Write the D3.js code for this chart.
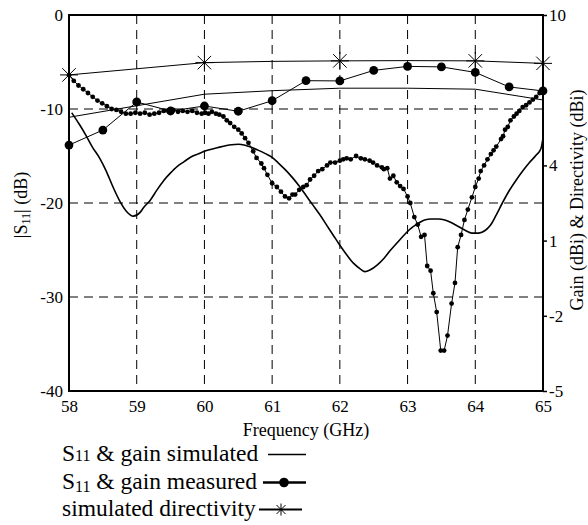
<!DOCTYPE html>
<html>
<head>
<meta charset="utf-8">
<script src="https://cdn.jsdelivr.net/npm/d3@7"></script>
<style>
  html, body { margin: 0; padding: 0; background: #fff; }
  svg { display: block; }
  svg text { font-family: "Liberation Serif", "Times New Roman", serif !important; fill: #000; }
</style>
</head>
<body>
<svg id="chart" width="588" height="525"></svg>
<script>
// ---------- DATA ----------
const xTicks = [58, 59, 60, 61, 62, 63, 64, 65];
const leftTicks = [0, -10, -20, -30, -40];
const rightTicks = [10, 4, 1, -2, -5];

// Simulated |S11| (dB), left axis
const simS11Freq = [58.04, 58.15, 58.25, 58.35, 58.45, 58.55, 58.65, 58.75, 58.85, 58.95, 59.05, 59.1, 59.2, 59.3, 59.4, 59.5, 59.6, 59.7, 59.8, 59.9, 60.0, 60.2, 60.4, 60.5, 60.6, 60.7, 60.8, 60.9, 61.0, 61.1, 61.2, 61.3, 61.4, 61.5, 61.6, 61.7, 61.8, 61.9, 62.0, 62.1, 62.2, 62.3, 62.37, 62.45, 62.55, 62.65, 62.75, 62.85, 62.95, 63.05, 63.15, 63.25, 63.35, 63.45, 63.55, 63.65, 63.75, 63.85, 63.95, 64.05, 64.15, 64.22, 64.3, 64.4, 64.5, 64.6, 64.7, 64.8, 64.9, 64.97, 65.0];
const simS11 = [-10.4, -11.6, -12.8, -14.1, -15.2, -16.6, -18.3, -19.8, -20.9, -21.4, -21.0, -20.5, -19.7, -18.6, -17.6, -16.8, -16.1, -15.6, -15.1, -14.8, -14.5, -14.1, -13.8, -13.75, -13.85, -14.1, -14.4, -14.75, -15.15, -15.8, -16.5, -17.3, -18.2, -19.2, -20.2, -21.2, -22.3, -23.4, -24.5, -25.5, -26.4, -27.0, -27.3, -27.1, -26.6, -25.9, -25.0, -24.2, -23.4, -22.7, -22.2, -21.8, -21.7, -21.7, -21.8, -22.1, -22.5, -22.9, -23.2, -23.2, -22.9, -22.4, -21.4, -20.0, -18.7, -17.6, -16.6, -15.7, -14.9, -14.2, -13.1];

// Measured |S11| (dB), left axis
const measS11Freq = [58.00, 58.07, 58.14, 58.21, 58.28, 58.35, 58.42, 58.49, 58.56, 58.63, 58.70, 58.77, 58.84, 58.91, 58.98, 59.05, 59.12, 59.19, 59.26, 59.33, 59.40, 59.47, 59.54, 59.61, 59.68, 59.75, 59.82, 59.89, 59.96, 60.01, 60.06, 60.11, 60.17, 60.22, 60.28, 60.33, 60.38, 60.44, 60.50, 60.55, 60.60, 60.65, 60.72, 60.77, 60.84, 60.88, 60.93, 61.00, 61.07, 61.13, 61.19, 61.25, 61.30, 61.34, 61.40, 61.46, 61.51, 61.56, 61.62, 61.68, 61.74, 61.81, 61.86, 61.93, 62.00, 62.05, 62.10, 62.16, 62.24, 62.31, 62.37, 62.44, 62.49, 62.55, 62.62, 62.65, 62.70, 62.74, 62.79, 62.84, 62.89, 62.94, 63.00, 63.04, 63.10, 63.15, 63.20, 63.25, 63.29, 63.34, 63.38, 63.43, 63.49, 63.54, 63.59, 63.65, 63.70, 63.74, 63.79, 63.84, 63.89, 63.95, 64.00, 64.05, 64.08, 64.13, 64.18, 64.23, 64.27, 64.31, 64.38, 64.41, 64.44, 64.48, 64.52, 64.57, 64.61, 64.65, 64.70, 64.75, 64.80, 64.85, 64.90, 64.95, 65.00];
const measS11 = [-6.4, -7.0, -7.5, -7.9, -8.3, -8.7, -9.1, -9.4, -9.7, -10.0, -10.1, -10.3, -10.5, -10.5, -10.4, -10.5, -10.4, -10.6, -10.5, -10.4, -10.2, -10.2, -10.1, -10.3, -10.2, -10.3, -10.2, -10.4, -10.5, -10.4, -10.5, -10.3, -10.5, -10.6, -10.8, -11.2, -11.5, -11.9, -12.2, -12.6, -13.1, -13.6, -14.5, -15.2, -15.8, -16.3, -17.0, -17.9, -18.3, -18.8, -19.3, -19.5, -19.1, -19.1, -18.6, -18.3, -18.1, -17.5, -17.1, -16.6, -16.4, -16.0, -15.7, -15.7, -15.5, -15.35, -15.25, -15.35, -15.0, -15.25, -15.35, -15.5, -15.7, -16.0, -16.2, -16.4, -16.3, -17.4, -17.1, -17.8, -18.2, -18.5, -19.3, -20.0, -21.5, -22.3, -23.6, -23.4, -26.7, -27.2, -29.6, -31.6, -35.7, -35.7, -34.1, -30.7, -28.5, -24.7, -23.4, -21.8, -20.7, -19.4, -18.3, -17.4, -16.6, -16.0, -15.35, -14.8, -14.4, -14.0, -13.2, -12.9, -12.2, -11.9, -11.2, -10.8, -10.5, -10.2, -9.8, -9.6, -9.3, -9.0, -8.7, -8.3, -8.2];

// Measured gain (dBi), right axis
const measGainFreq = [58, 58.5, 59, 59.5, 60, 60.5, 61, 61.5, 62, 62.5, 63, 63.5, 64, 64.5, 65];
const measGain = [4.81, 5.41, 6.53, 6.17, 6.37, 6.16, 6.58, 7.38, 7.37, 7.79, 7.95, 7.93, 7.71, 7.13, 6.97];

// Simulated gain (dBi), right axis
const simGainFreq = [58, 60, 61, 62, 63, 64, 65];
const simGain = [5.92, 6.84, 6.98, 7.08, 7.08, 7.04, 6.61];

// Simulated directivity (dBi), right axis
const dirFreq = [58, 60, 61, 62, 63, 64, 65];
const dirVal = [7.61, 8.10, 8.15, 8.17, 8.18, 8.17, 8.07];
const dirMarkFreq = [58, 60, 62, 64, 65];

const legendLabels = ["S11 & gain simulated", "S11 & gain measured", "simulated directivity"];

// ---------- CHART ----------
const SERIF = "'Liberation Serif', 'Times New Roman', serif";
const svg = d3.select("#chart");
const L = 69, R = 543, T = 15, B = 391;
const x = d3.scaleLinear().domain([58, 65]).range([L, R]);
const yL = d3.scaleLinear().domain([-40, 0]).range([B, T]);
const yR = d3.scaleLinear().domain([-5, 10]).range([B, T]);

// grid
const grid = svg.append("g").attr("stroke", "#000").attr("stroke-width", 1).attr("stroke-dasharray", "9,6");
grid.selectAll("line.v").data(xTicks.filter(d => d > 58 && d < 65)).join("line")
  .attr("x1", d => x(d)).attr("x2", d => x(d)).attr("y1", T).attr("y2", B);
grid.selectAll("line.h").data(leftTicks.filter(d => d < 0 && d > -40)).join("line")
  .attr("class", "h")
  .attr("x1", L).attr("x2", R).attr("y1", d => yL(d)).attr("y2", d => yL(d));

// axes
const fmt = d => String(d);
const axL = svg.append("g").attr("transform", `translate(${L},0)`)
  .call(d3.axisLeft(yL).tickValues(leftTicks).tickSize(0).tickPadding(6).tickFormat(fmt));
const axR = svg.append("g").attr("transform", `translate(${R},0)`)
  .call(d3.axisRight(yR).tickValues(rightTicks).tickSize(4).tickPadding(2).tickFormat(fmt));
const axB = svg.append("g").attr("transform", `translate(0,${B})`)
  .call(d3.axisBottom(x).tickValues(xTicks).tickSize(0).tickPadding(9).tickFormat(fmt));
[axL, axR, axB].forEach(a => {
  a.attr("font-family", SERIF).attr("font-size", 17);
  a.select(".domain").remove();
  a.selectAll("text").style("font-family", SERIF).attr("font-size", 17);
  a.selectAll("line").attr("stroke", "#000").attr("stroke-width", 1.5);
});

// frame
svg.append("rect").attr("x", L).attr("y", T).attr("width", R - L).attr("height", B - T)
  .attr("fill", "none").attr("stroke", "#000").attr("stroke-width", 2);

// simulated S11
const lineS = d3.line().x(d => x(d[0])).y(d => yL(d[1])).curve(d3.curveMonotoneX);
svg.append("path").datum(simS11Freq.map((f, i) => [f, simS11[i]]))
  .attr("d", lineS).attr("fill", "none").attr("stroke", "#000").attr("stroke-width", 1.6);

// measured S11
const measPts = measS11Freq.map((f, i) => [f, measS11[i]]);
svg.append("path").datum(measPts)
  .attr("d", d3.line().x(d => x(d[0])).y(d => yL(d[1])))
  .attr("fill", "none").attr("stroke", "#000").attr("stroke-width", 1);
svg.append("g").selectAll("circle").data(measPts).join("circle")
  .attr("cx", d => x(d[0])).attr("cy", d => yL(d[1])).attr("r", 2.4).attr("fill", "#000");

// gains and directivity
const lineR = d3.line().x(d => x(d[0])).y(d => yR(d[1]));
svg.append("path").datum(simGainFreq.map((f, i) => [f, simGain[i]]))
  .attr("d", lineR).attr("fill", "none").attr("stroke", "#000").attr("stroke-width", 1);
svg.append("path").datum(dirFreq.map((f, i) => [f, dirVal[i]]))
  .attr("d", lineR).attr("fill", "none").attr("stroke", "#000").attr("stroke-width", 1);
const mgPts = measGainFreq.map((f, i) => [f, measGain[i]]);
svg.append("path").datum(mgPts)
  .attr("d", lineR).attr("fill", "none").attr("stroke", "#000").attr("stroke-width", 1);
svg.append("g").selectAll("circle").data(mgPts).join("circle")
  .attr("cx", d => x(d[0])).attr("cy", d => yR(d[1])).attr("r", 4.4).attr("fill", "#000");

function star(g, cx, cy, s) {
  const arms = [[s, 0], [0, s], [s * 0.75, s * 0.75], [s * 0.75, -s * 0.75]];
  arms.forEach(([dx, dy]) => g.append("line")
    .attr("x1", cx - dx).attr("x2", cx + dx).attr("y1", cy - dy).attr("y2", cy + dy)
    .attr("stroke", "#000").attr("stroke-width", 1));
}
const starG = svg.append("g");
dirMarkFreq.forEach(f => {
  const v = dirVal[dirFreq.indexOf(f)];
  star(starG, x(f), yR(v), 9);
});

// axis titles
svg.append("text").attr("x", (L + R) / 2).attr("y", 436).attr("text-anchor", "middle")
  .style("font-family", SERIF).attr("font-size", 18).text("Frequency (GHz)");
const lt = svg.append("text").attr("transform", "translate(27,205) rotate(-90)")
  .attr("text-anchor", "middle").style("font-family", SERIF).attr("font-size", 18);
lt.append("tspan").text("|S");
lt.append("tspan").attr("font-size", 12).attr("dy", 3).text("11");
lt.append("tspan").attr("dy", -3).text("| (dB)");
svg.append("text").attr("transform", "translate(583,200) rotate(-90)")
  .attr("text-anchor", "middle").style("font-family", SERIF).attr("font-size", 18)
  .text("Gain (dBi) & Directivity (dBi)");

// legend
const lg = svg.append("g");
const rows = [461, 489, 516];
const LF = 23.5;
const t1 = lg.append("text").attr("x", 62).attr("y", rows[0]).attr("font-size", LF).style("font-family", SERIF);
t1.append("tspan").text("S");
t1.append("tspan").attr("font-size", 16).text("11");
t1.append("tspan").text(legendLabels[0].slice(3));
const t2 = lg.append("text").attr("x", 62).attr("y", rows[1]).attr("font-size", LF).style("font-family", SERIF);
t2.append("tspan").text("S");
t2.append("tspan").attr("font-size", 16).attr("dy", 3).text("11");
t2.append("tspan").attr("dy", -3).text(legendLabels[1].slice(3));
lg.append("text").attr("x", 62).attr("y", rows[2]).attr("font-size", LF).style("font-family", SERIF)
  .text(legendLabels[2]);

lg.append("line").attr("x1", 268).attr("x2", 306).attr("y1", rows[0] - 6.5).attr("y2", rows[0] - 6.5)
  .attr("stroke", "#000").attr("stroke-width", 1.5);
lg.append("line").attr("x1", 263).attr("x2", 306).attr("y1", rows[1] - 6.5).attr("y2", rows[1] - 6.5)
  .attr("stroke", "#000").attr("stroke-width", 2.5);
lg.append("circle").attr("cx", 284).attr("cy", rows[1] - 6.5).attr("r", 4.8).attr("fill", "#000");
lg.append("line").attr("x1", 259).attr("x2", 302).attr("y1", rows[2] - 6.5).attr("y2", rows[2] - 6.5)
  .attr("stroke", "#000").attr("stroke-width", 2);
star(lg, 281, rows[2] - 6.5, 6);
</script>
</body>
</html>
